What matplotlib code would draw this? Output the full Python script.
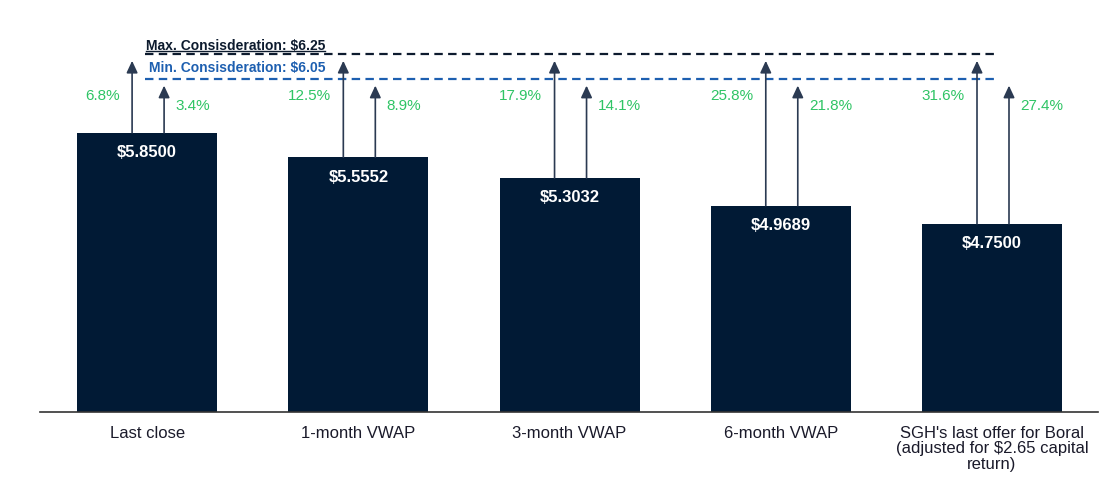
import matplotlib
matplotlib.use("Agg")
import matplotlib.pyplot as plt
from matplotlib.lines import Line2D

plt.rcParams['font.family'] = ['Liberation Sans', 'DejaVu Sans']

# data
categories = ["Last close", "1-month VWAP", "3-month VWAP", "6-month VWAP",
              "SGH's last offer for Boral\n(adjusted for $2.65 capital\nreturn)"]
prices = [5.8500, 5.5552, 5.3032, 4.9689, 4.7500]
max_consideration = 6.25
min_consideration = 6.05

bar_color = '#011a35'
green = '#2fc465'
blue = '#1d5fb0'
arrow_color = '#2b3a52'

fig = plt.figure(figsize=(11.05, 4.86), dpi=100)
ax = fig.add_axes([0.0362, 0.153, 0.9575, 0.806])

x = list(range(len(prices)))
ax.bar(x, prices, width=0.663, color=bar_color, zorder=2)

ax.set_xlim(-0.507, 4.502)
ax.set_ylim(2.48, 7.214)

# lines are drawn off-scale in the original (not to scale with the bars)
max_line_y = 6.80
min_line_y = 6.50
long_tip = 6.72
short_tip = 6.42

ax.hlines(max_line_y, -0.01, 4.015, colors='#0d1b2e', linewidth=1.6,
          linestyles=(0, (3.8, 2.4)))
ax.hlines(min_line_y, -0.01, 4.015, colors=blue, linewidth=1.6,
          linestyles=(0, (3.8, 2.4)))

max_txt = ax.annotate(f"Max. Consisderation: ${max_consideration:.2f}", xy=(-0.005, max_line_y),
                      xytext=(0, 1), textcoords='offset points', ha='left', va='bottom',
                      fontsize=10, fontweight='bold', color='#0d1b2e')
ax.annotate(f"Min. Consisderation: ${min_consideration:.2f}", xy=(0.01, min_line_y),
            xytext=(0, 3), textcoords='offset points', ha='left', va='bottom',
            fontsize=10, fontweight='bold', color=blue)

dx_long = -15 / 211.25
dx_short = 17 / 211.25
for xi, p in zip(x, prices):
    ax.text(xi, p - 0.15, f"${p:.4f}", ha='center', va='top', color='white',
            fontsize=12, fontweight='bold', zorder=3)
    for dx, tip in ((dx_long, long_tip), (dx_short, short_tip)):
        ax.annotate('', xy=(xi + dx, tip), xytext=(xi + dx, p),
                    arrowprops=dict(arrowstyle='-|>,head_width=0.28,head_length=0.6',
                                    color=arrow_color, lw=1.2, shrinkA=0, shrinkB=0,
                                    mutation_scale=12))
    up_max = (max_consideration / p - 1) * 100
    up_min = (min_consideration / p - 1) * 100
    ax.annotate(f"{up_max:.1f}%", xy=(xi + dx_long, 6.29), xytext=(-9, 0),
                textcoords='offset points', ha='right', va='center',
                fontsize=11, color=green)
    ax.annotate(f"{up_min:.1f}%", xy=(xi + dx_short, 6.17), xytext=(8, 0),
                textcoords='offset points', ha='left', va='center',
                fontsize=11, color=green)

ax.set_xticks(x)
ax.set_xticklabels(categories, fontsize=12, color='#1a1a2a', linespacing=1.05)
ax.tick_params(axis='x', length=0, pad=10)
ax.set_yticks([])
for side in ('left', 'right', 'top'):
    ax.spines[side].set_visible(False)
ax.spines['bottom'].set_color('#333333')
ax.spines['bottom'].set_linewidth(1.2)

# underline the max consideration label
fig.canvas.draw()
bb = max_txt.get_window_extent()
inv = fig.transFigure.inverted()
(x0, y0), (x1, _) = inv.transform([(bb.x0, bb.y0 + 2), (bb.x1, bb.y0 + 2)])
fig.lines.append(Line2D([x0, x1], [y0, y0], transform=fig.transFigure,
                        color='#0d1b2e', linewidth=1.0))

fig.savefig("out.png", dpi=100)
